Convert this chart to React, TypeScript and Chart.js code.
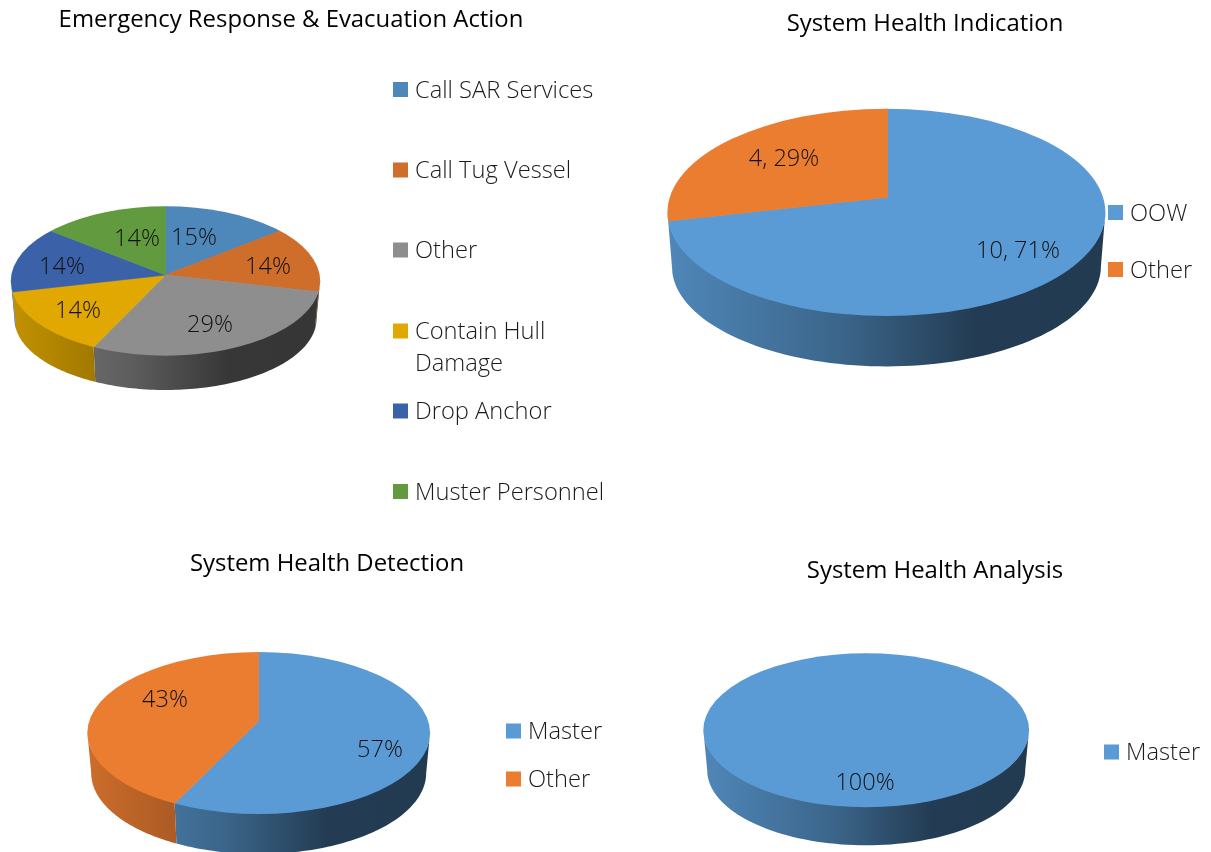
import React, { useEffect, useRef } from "react";
import { Chart, registerables } from "chart.js";

Chart.register(...registerables);

const sarLabels = ["Call SAR Services", "Call Tug Vessel", "Other", "Contain Hull Damage", "Drop Anchor", "Muster Personnel"];
const sarValues = [1, 1, 2, 1, 1, 1];
const sarText = ["15%", "14%", "29%", "14%", "14%", "14%"];
const sarColors = ["#4e87ba", "#cf6d2b", "#8e8e8e", "#e0a800", "#3b62a8", "#629a3f"];

const indicationLabels = ["OOW", "Other"];
const indicationValues = [10, 4];
const indicationText = ["10, 71%", "4, 29%"];

const detectionLabels = ["Master", "Other"];
const detectionValues = [4, 3];
const detectionText = ["57%", "43%"];

const analysisLabels = ["Master"];
const analysisValues = [1];
const analysisText = ["100%"];

const officeColors = ["#5b9bd5", "#eb7d31"];

const TITLE_FONT = "'Open Sans'";
const BODY_FONT = "'Open Sans'";

type Layout = {
  title: string; labels: string[]; values: number[]; text: string[]; colors: string[];
  box: [number, number, number, number]; titleY: number;
  cx: number; ey: number; ax: number; ay: number; rx: number; ry: number; depth: number; rx2: number; ry2: number;
  textAt: [number, number][];
  legendBoxX: number; legendTextX: number; legendY: number[];
};

const layouts: Layout[] = [
  {
    title: "Emergency Response & Evacuation Action", labels: sarLabels, values: sarValues, text: sarText, colors: sarColors,
    box: [-30, 0, 642, 520], titleY: 20,
    cx: 165.5, ey: 281, ax: 165.5, ay: 275, rx: 154.7, ry: 74.7, depth: 38, rx2: 151, ry2: 71,
    textAt: [[194, 237], [268, 266], [210, 324], [78, 310], [62, 266], [137, 238]],
    legendBoxX: 393, legendTextX: 415, legendY: [89.5, 170, 250, 331, 411, 491.5],
  },
  {
    title: "System Health Indication", labels: indicationLabels, values: indicationValues, text: indicationText, colors: officeColors,
    box: [650, 0, 550, 400], titleY: 24,
    cx: 886.4, ey: 212.4, ax: 887.5, ay: 197.3, rx: 219, ry: 103.7, depth: 54, rx2: 214.5, ry2: 100,
    textAt: [[1018, 250], [784, 158]],
    legendBoxX: 1108, legendTextX: 1130, legendY: [212.5, 269.5],
  },
  {
    title: "System Health Detection", labels: detectionLabels, values: detectionValues, text: detectionText, colors: officeColors,
    box: [49, 530, 556, 322], titleY: 564,
    cx: 258.7, ey: 733, ax: 258.7, ay: 721, rx: 171.4, ry: 81, depth: 40, rx2: 167.5, ry2: 81,
    textAt: [[380, 749], [165, 699]],
    legendBoxX: 506, legendTextX: 528, legendY: [731, 779],
  },
  {
    title: "System Health Analysis", labels: analysisLabels, values: analysisValues, text: analysisText, colors: officeColors,
    box: [660, 530, 550, 322], titleY: 571,
    cx: 866.2, ey: 730.3, ax: 866.2, ay: 720, rx: 162.9, ry: 77, depth: 40, rx2: 159, ry2: 75,
    textAt: [[865, 782]],
    legendBoxX: 1104, legendTextX: 1126, legendY: [752],
  },
];

const shade = (hex: string, f: number) => {
  const n = parseInt(hex.slice(1), 16);
  const c = [(n >> 16) & 255, (n >> 8) & 255, n & 255].map((v) => Math.round(v * f));
  return `rgb(${c[0]},${c[1]},${c[2]})`;
};

const pie3d = {
  id: "pie3d",
  afterLayout(chart: any, _a: any, o: any) {
    const L: Layout = o.layout;
    const x = L.ax - L.box[0];
    const y = L.ay - L.box[1];
    const r = 50;
    chart.chartArea = { left: x - r, right: x + r, top: y - r, bottom: y + r, width: 2 * r, height: 2 * r };
  },
  beforeDatasetsDraw(chart: any, _a: any, o: any) {
    const L: Layout = o.layout;
    const ctx = chart.ctx;
    const dx = -L.box[0];
    const dy = -L.box[1];
    const cx = L.cx + dx;
    const ey = L.ey + dy;
    const a = (L.ay - L.ey) / L.ry;
    const k = L.ry / L.rx;
    const toPhi = (t: number) => {
      const c = Math.cos(t);
      const s = Math.sin(t);
      const q = -a * s + Math.sqrt(a * a * s * s - a * a + 1);
      const p = Math.atan2(a + q * s, q * c);
      return p + 2 * Math.PI * Math.round((t - p) / (2 * Math.PI));
    };
    const meta = chart.getDatasetMeta(0);
    meta.data.forEach((arc: any, i: number) => {
      const lo = Math.max(toPhi(arc.startAngle), 0);
      const hi = Math.min(toPhi(arc.endAngle), Math.PI);
      if (hi <= lo) return;
      const base = L.colors[i];
      const g = ctx.createLinearGradient(cx - L.rx, 0, cx + L.rx, 0);
      g.addColorStop(0, shade(base, 0.87));
      g.addColorStop(0.4, shade(base, 0.65));
      g.addColorStop(0.7, shade(base, 0.39));
      g.addColorStop(1, shade(base, 0.38));
      ctx.save();
      ctx.fillStyle = g;
      ctx.beginPath();
      const steps = 80;
      for (let s = 0; s <= steps; s++) {
        const p = lo + ((hi - lo) * s) / steps;
        ctx.lineTo(cx + L.rx * Math.cos(p), ey - 1 + L.ry * Math.sin(p));
      }
      for (let s = steps; s >= 0; s--) {
        const p = lo + ((hi - lo) * s) / steps;
        ctx.lineTo(cx + L.rx2 * Math.cos(p), ey + L.depth + L.ry2 * Math.sin(p));
      }
      ctx.closePath();
      ctx.fill();
      ctx.restore();
    });
    ctx.save();
    ctx.beginPath();
    ctx.ellipse(cx, ey, L.rx, L.ry, 0, 0, Math.PI * 2);
    ctx.clip();
    const ax = L.ax + dx;
    const ay = L.ay + dy;
    ctx.translate(ax, ay);
    ctx.scale(1, k);
    ctx.translate(-ax, -ay);
  },
  afterDatasetsDraw(chart: any) {
    chart.ctx.restore();
  },
  afterDraw(chart: any, _a: any, o: any) {
    const L: Layout = o.layout;
    const ctx = chart.ctx;
    const dx = -L.box[0];
    const dy = -L.box[1];
    ctx.save();
    ctx.textBaseline = "middle";
    ctx.fillStyle = "#111111";
    ctx.textAlign = "center";
    ctx.font = `300 ${o.labelSize}px ${BODY_FONT}`;
    L.text.forEach((t, i) => ctx.fillText(t, L.textAt[i][0] + dx, L.textAt[i][1] + dy + 1.5));
    ctx.textAlign = "left";
    ctx.font = `300 ${o.legendSize}px ${BODY_FONT}`;
    L.labels.forEach((label, i) => {
      const y = L.legendY[i] + dy;
      ctx.fillStyle = L.colors[i];
      ctx.fillRect(L.legendBoxX + dx, y - 7.5, 15, 15);
      ctx.fillStyle = "#1a1a1a";
      if (label === "Contain Hull Damage") {
        ctx.fillText("Contain Hull", L.legendTextX + dx, y + 1.5);
        ctx.fillText("Damage", L.legendTextX + dx, y + 33.5);
      } else {
        ctx.fillText(label, L.legendTextX + dx, y + 1.5);
      }
    });
    ctx.restore();
  },
};

function Pie({ layout }: { layout: Layout }) {
  const ref = useRef<HTMLCanvasElement | null>(null);
  useEffect(() => {
    const titleSize = 23.9;
    const chart = new Chart(ref.current as HTMLCanvasElement, {
      type: "pie",
      plugins: [pie3d],
      data: {
        labels: layout.labels,
        datasets: [{
          data: layout.values,
          backgroundColor: layout.colors,
          borderColor: layout.colors,
          borderWidth: 1,
          radius: layout.rx + Math.abs(layout.ay - layout.ey) * (layout.rx / layout.ry) + 6,
          clip: false,
        } as any],
      },
      options: {
        responsive: false,
        animation: false,
        events: [],
        layout: { padding: 0 },
        plugins: {
          legend: { display: false },
          tooltip: { enabled: false },
          title: {
            display: true,
            text: layout.title,
            color: "#000000",
            font: { family: TITLE_FONT, size: titleSize, weight: "normal", lineHeight: 1.2 },
            padding: { top: layout.titleY - layout.box[1] - (titleSize * 1.2) / 2, bottom: 0 },
          },
          pie3d: { layout, labelSize: 23.5, legendSize: 23.7 },
        } as any,
      },
    });
    return () => chart.destroy();
  }, [layout]);
  const [l, t, w, h] = layout.box;
  return (
    <div style={{ position: "absolute", left: l, top: t, width: w, height: h }}>
      <canvas ref={ref} width={w} height={h} />
    </div>
  );
}

export default function App() {
  return (
    <div style={{ position: "fixed", left: 0, top: 0, width: 1211, height: 852, overflow: "hidden", background: "#ffffff" }}>
      {layouts.map((l) => <Pie key={l.title} layout={l} />)}
    </div>
  );
}
